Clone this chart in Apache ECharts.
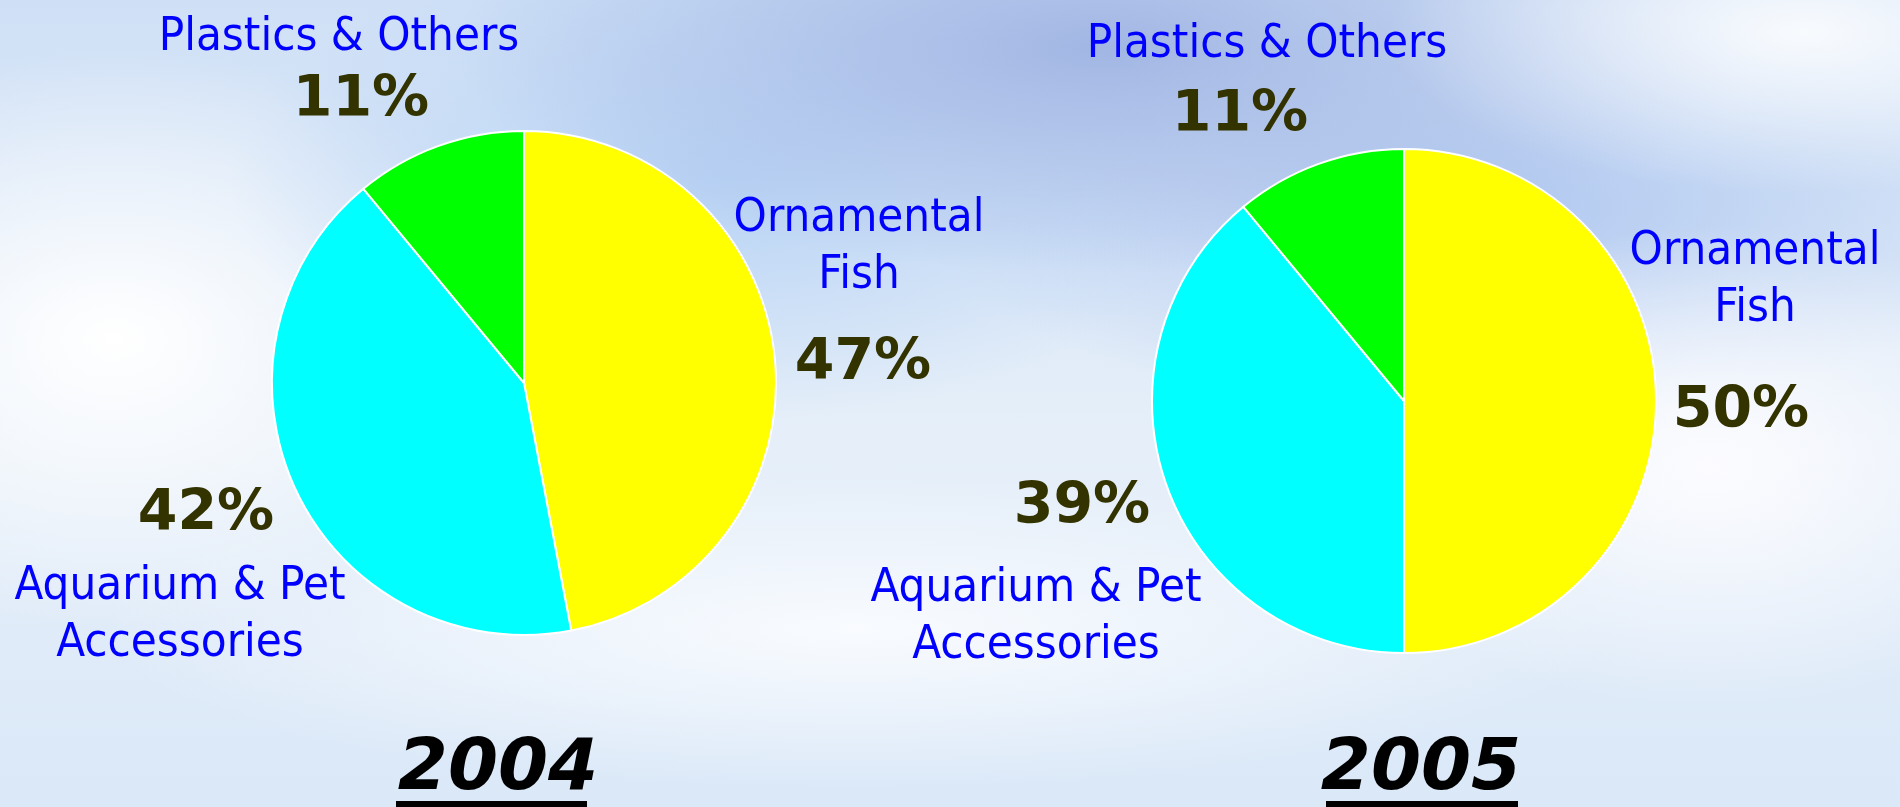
<!DOCTYPE html>
<html>
<head>
<meta charset="utf-8">
<title>Sales mix 2004 / 2005</title>
<script src="https://cdn.jsdelivr.net/npm/echarts@6/dist/echarts.min.js"></script>
<style>
  html, body { margin: 0; padding: 0; }
  body {
    width: 1900px; height: 807px; overflow: hidden;
    background:
      radial-gradient(ellipse 22% 20% at 95% 4%, rgba(255,255,255,0.85), rgba(255,255,255,0) 100%),
      radial-gradient(ellipse 34% 28% at 58% 6%, rgba(162,182,228,1), rgba(162,182,228,0) 100%),
      radial-gradient(ellipse 26% 30% at 38% 22%, rgba(185,212,245,1), rgba(185,212,245,0) 100%),
      radial-gradient(ellipse 22% 36% at 6% 42%, rgba(255,255,255,1), rgba(255,255,255,0) 100%),
      radial-gradient(ellipse 20% 30% at 90% 58%, rgba(252,252,255,1), rgba(252,252,255,0) 100%),
      radial-gradient(ellipse 40% 20% at 45% 78%, rgba(250,252,255,0.95), rgba(250,252,255,0) 100%),
      radial-gradient(ellipse 30% 25% at 78% 26%, rgba(176,200,240,1), rgba(176,200,240,0) 100%),
      linear-gradient(180deg, #cfe0f6 0%, #e6eff9 55%, #dae8f8 100%);
  }
  #chart { width: 1900px; height: 807px; }
</style>
</head>
<body>
<div id="chart"></div>
<script>
// Share of sales by product group, per year (%)
const years = ['2004', '2005'];
const categories = ['Ornamental Fish', 'Aquarium & Pet Accessories', 'Plastics & Others'];
const categoryLines = ['Ornamental\nFish', 'Aquarium & Pet\nAccessories', 'Plastics & Others'];
const share2004 = [47, 42, 11];
const share2005 = [50, 39, 11];
const shares = [share2004, share2005];

// Layout
const sliceColors = ['#ffff00', '#00ffff', '#00ff00'];
const pieCenters = [[524, 383], [1404, 401]];
const pieRadius = 252;
const nameSpots = [
  [[859, 247.5], [180, 615], [339, 38]],
  [[1755, 280], [1036, 617.5], [1267, 44.5]]
];
const pctSpots = [
  [[863, 364], [206, 515], [361, 101]],
  [[1741, 412], [1082, 508], [1240, 116]]
];
const yearSpots = [[498, 770], [1421, 770]];
const underline = [[396, 191], [1326, 192]];

const nameFont = "'DejaVu Sans Condensed', 'DejaVu Sans', sans-serif";
const boldFont = "'DejaVu Sans', Verdana, sans-serif";

const chart = echarts.init(document.getElementById('chart'), null, { renderer: 'canvas' });

const series = [];
years.forEach((yr, i) => {
  const data = categories.map((c, k) => ({ name: c, value: shares[i][k] }));
  // slices with category names
  series.push({
    type: 'pie',
    name: yr,
    center: pieCenters[i],
    radius: pieRadius,
    startAngle: 90,
    clockwise: true,
    avoidLabelOverlap: false,
    animation: false,
    data: data,
    itemStyle: { borderColor: '#ffffff', borderWidth: 2 },
    emphasis: { disabled: true },
    label: {
      show: true,
      position: 'outside',
      formatter: p => categoryLines[p.dataIndex],
      color: '#0000ff',
      fontFamily: nameFont,
      fontSize: 47,
      lineHeight: 57
    },
    labelLine: { show: false },
    labelLayout: p => ({
      x: nameSpots[i][p.dataIndex][0],
      y: nameSpots[i][p.dataIndex][1],
      align: 'center',
      verticalAlign: 'middle'
    })
  });
  // percentage labels for the same slices
  series.push({
    type: 'pie',
    name: yr + ' %',
    center: pieCenters[i],
    radius: pieRadius,
    startAngle: 90,
    clockwise: true,
    avoidLabelOverlap: false,
    animation: false,
    silent: true,
    data: data,
    itemStyle: { color: 'rgba(0,0,0,0)', borderWidth: 0 },
    emphasis: { disabled: true },
    label: {
      show: true,
      position: 'outside',
      formatter: p => Math.round(p.percent) + '%',
      color: '#333300',
      fontFamily: boldFont,
      fontWeight: 'bold',
      fontSize: 57
    },
    labelLine: { show: false },
    labelLayout: p => ({
      x: pctSpots[i][p.dataIndex][0],
      y: pctSpots[i][p.dataIndex][1],
      align: 'center',
      verticalAlign: 'middle'
    })
  });
});

const graphic = [];
years.forEach((yr, i) => {
  graphic.push({
    type: 'text',
    x: yearSpots[i][0],
    y: yearSpots[i][1],
    style: {
      text: yr,
      fill: '#000000',
      font: "italic bold 72px 'DejaVu Sans', Verdana, sans-serif",
      textAlign: 'center',
      textVerticalAlign: 'middle'
    }
  });
  graphic.push({
    type: 'rect',
    shape: { x: underline[i][0], y: 801, width: underline[i][1], height: 8 },
    style: { fill: '#000000' }
  });
});

chart.setOption({
  backgroundColor: 'transparent',
  color: sliceColors,
  series: series,
  graphic: graphic
});
</script>
</body>
</html>
